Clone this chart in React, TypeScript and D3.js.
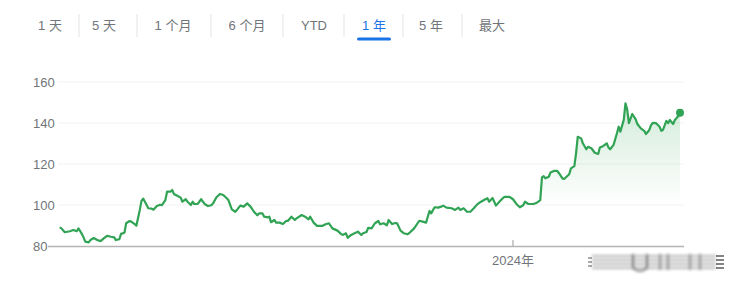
import React from "react";
import * as d3 from "d3";

const startDate = new Date(2023, 3, 10);
const dayOffsets = [
  0, 1, 3, 6, 8, 10, 11, 13, 14, 15, 17, 18, 20, 22, 24, 26, 28, 30, 32, 33, 35, 36, 38, 39, 41, 42, 44, 45, 47, 48,
  49, 50, 52, 54, 55, 57, 59, 60, 62, 63, 65, 66, 67, 69, 71, 72, 74, 75, 77, 78, 79, 81, 83, 85, 87, 89, 90, 92, 94, 96,
  98, 99, 101, 103, 104, 106, 108, 110, 112, 114, 116, 117, 119, 120, 122, 123, 124, 126, 127, 129, 131, 133, 134, 136, 138, 139, 142, 144, 146, 147,
  149, 151, 154, 156, 158, 160, 163, 165, 166, 168, 169, 171, 173, 175, 177, 178, 180, 181, 183, 185, 187, 188, 190, 192, 193, 195, 197, 198, 200, 202,
  204, 205, 208, 210, 211, 213, 215, 216, 217, 218, 220, 222, 224, 225, 227, 230, 232, 234, 235, 237, 239, 241, 243, 245, 247, 249, 251, 252, 254, 256,
  258, 260, 261, 264, 266, 268, 270, 272, 273, 275, 278, 280, 282, 283, 284, 285, 287, 288, 290, 292, 293, 295, 296, 299, 300, 302, 303, 304, 306, 307,
  309, 310, 312, 314, 316, 317, 319, 321, 322, 323, 325, 327, 328, 329, 331, 332, 333, 334, 336, 338, 339, 341, 343, 344, 346, 347, 348, 350, 352, 353,
  354, 356, 357, 358, 360, 361, 363, 364,
];
const prices = [
  89.1, 88.6, 86.7, 87.2, 87.8, 87.2, 88.6, 85.9, 84.2, 82.1, 81.8, 82.9, 83.9, 82.9, 82.4, 83.8, 85.0, 84.5, 84.2, 82.9, 83.3, 85.9, 86.5, 91.1, 92.2, 91.9, 90.7, 89.9, 97.6, 102.0,
  103.1, 101.6, 98.4, 98.2, 97.7, 99.5, 100.1, 99.9, 102.4, 106.5, 106.5, 107.3, 105.4, 104.5, 103.6, 101.6, 102.8, 101.6, 100.0, 101.6, 100.5, 100.5, 102.8, 100.5, 99.5, 99.9, 100.8, 103.8, 105.4, 104.9,
  103.3, 102.4, 97.9, 96.7, 97.6, 99.7, 99.2, 100.8, 99.2, 96.7, 95.0, 95.9, 95.9, 94.3, 94.0, 94.3, 91.6, 92.7, 91.4, 91.4, 90.7, 92.3, 92.3, 94.3, 92.7, 93.5, 95.1, 94.3, 93.0, 94.3,
  91.4, 89.8, 89.8, 90.6, 91.1, 88.6, 87.5, 85.9, 85.4, 86.2, 84.0, 85.4, 86.2, 87.0, 85.4, 86.2, 86.8, 88.8, 88.6, 91.1, 92.2, 90.6, 91.1, 90.1, 92.7, 90.7, 91.2, 91.1, 87.5, 86.2,
  85.7, 86.2, 88.6, 91.1, 92.3, 91.9, 91.4, 94.3, 97.1, 95.9, 98.9, 98.7, 99.2, 99.7, 98.7, 98.4, 97.6, 98.7, 97.6, 98.4, 96.7, 96.7, 98.4, 100.3, 101.5, 102.4, 103.3, 101.6, 103.4, 99.7,
  101.6, 103.3, 104.0, 104.0, 102.8, 100.5, 98.9, 99.9, 101.6, 100.5, 100.5, 101.1, 102.4, 113.5, 114.1, 113.0, 113.8, 115.8, 116.6, 116.6, 115.5, 113.0, 112.7, 115.0, 117.9, 119.0, 125.2, 133.3, 132.5, 130.1,
  127.2, 128.4, 127.7, 125.5, 124.9, 128.1, 128.8, 130.1, 128.1, 127.2, 129.3, 135.0, 138.2, 135.8, 141.5, 149.6, 146.7, 139.9, 144.4, 141.8, 139.5, 137.4, 136.2, 134.6, 136.6, 139.0, 140.1, 139.9, 138.2, 136.2,
  136.6, 141.0, 139.9, 141.5, 139.5, 141.5, 143.4, 145.0,
];
const yTicks = [80, 100, 120, 140, 160];
const xTickDates = [new Date(2024, 0, 1)];
const xTickLabels = ["2024年"];
const tabs = ["1 天", "5 天", "1 个月", "6 个月", "YTD", "1 年", "5 年", "最大"];
const selectedTab = "1 年";

const W = 732;
const H = 281;
const FONT = "Arial, 'Liberation Sans', 'Noto Sans CJK SC', sans-serif";
const GREEN = "#31a354";

export default function App() {
  const data = dayOffsets.map((d, i) => ({ date: d3.timeDay.offset(startDate, d), v: prices[i] }));
  const x = d3
    .scaleTime()
    .domain([startDate, d3.timeDay.offset(startDate, dayOffsets[dayOffsets.length - 1])])
    .range([59.7, 680]);
  const y = d3.scaleLinear().domain([80, 160]).range([246, 82]);

  const line = d3
    .line<{ date: Date; v: number }>()
    .x((d) => x(d.date))
    .y((d) => y(d.v));
  const area = d3
    .area<{ date: Date; v: number }>()
    .x((d) => x(d.date))
    .y0(y(80))
    .y1((d) => y(d.v));

  const last = data[data.length - 1];

  const tabCenters = [50, 104, 173, 247, 314, 374, 431, 492];
  const seps = [79, 137, 211, 283, 344, 403, 462];

  return (
    <svg
      width={W}
      height={H}
      style={{ position: "absolute", left: 0, top: 0, background: "#fff" }}
      fontFamily={FONT}
    >
      <defs>
        <linearGradient id="fillGrad" gradientUnits="userSpaceOnUse" x1="0" x2="0" y1={y(150)} y2={y(100)}>
          <stop offset="0" stopColor="#34a853" stopOpacity={0.22} />
          <stop offset="1" stopColor="#34a853" stopOpacity={0} />
        </linearGradient>
        <filter id="blur" x="-10%" y="-50%" width="120%" height="200%">
          <feGaussianBlur stdDeviation="1.4" />
        </filter>
      </defs>

      {tabs.map((t, i) => (
        <text
          key={t}
          x={tabCenters[i]}
          y={30}
          textAnchor="middle"
          fontSize={13}
          fill={t === selectedTab ? "#1a73e8" : "#70757a"}
        >
          {t}
        </text>
      ))}
      {seps.map((s) => (
        <line key={s} x1={s} x2={s} y1={14} y2={37} stroke="#e3e3e3" strokeWidth={1} />
      ))}
      <rect
        x={tabCenters[tabs.indexOf(selectedTab)] - 17}
        y={37.5}
        width={34}
        height={3}
        rx={1.5}
        fill="#1a73e8"
      />

      {yTicks.slice(1).map((t) => (
        <line key={t} x1={58} x2={684} y1={y(t)} y2={y(t)} stroke="#f3f3f3" strokeWidth={1} />
      ))}
      {yTicks.map((t) => (
        <text key={t} x={33} y={y(t) + 4.5} fontSize={13} fill="#70757a">
          {t}
        </text>
      ))}

      <path d={area(data) || ""} fill="url(#fillGrad)" />
      <path d={line(data) || ""} fill="none" stroke={GREEN} strokeWidth={2.2} strokeLinejoin="round" />
      <circle cx={x(last.date)} cy={y(last.v)} r={4} fill={GREEN} />

      <line x1={48} x2={684} y1={246.5} y2={246.5} stroke="#b5b5b5" strokeWidth={1.5} />
      {xTickDates.map((d, i) => (
        <g key={i}>
          <line x1={x(d)} x2={x(d)} y1={240} y2={246} stroke="#9a9a9a" strokeWidth={1} />
          <text x={x(d)} y={265} textAnchor="middle" fontSize={13} fill="#70757a">
            {xTickLabels[i]}
          </text>
        </g>
      ))}

      <g filter="url(#blur)" opacity={0.85}>
        {[256, 260, 264, 268].map((yy) => (
          <line key={yy} x1={592} x2={716} y1={yy} y2={yy} stroke="#888" strokeWidth={1.6} />
        ))}
        <path d="M633,254 L633,268 Q640,274 647,268 L647,254" fill="none" stroke="#333" strokeWidth={1.6} />
        {[660, 668, 690, 700].map((xx) => (
          <line key={xx} x1={xx} x2={xx} y1={254} y2={270} stroke="#666" strokeWidth={1.6} />
        ))}
      </g>
      {[256, 260, 264, 268].map((yy) => (
        <line key={"r" + yy} x1={716} x2={724} y1={yy} y2={yy} stroke="#333" strokeWidth={1.2} />
      ))}
      {[258, 262, 266].map((yy) => (
        <line key={"l" + yy} x1={588} x2={592} y1={yy} y2={yy} stroke="#555" strokeWidth={1} />
      ))}
    </svg>
  );
}
